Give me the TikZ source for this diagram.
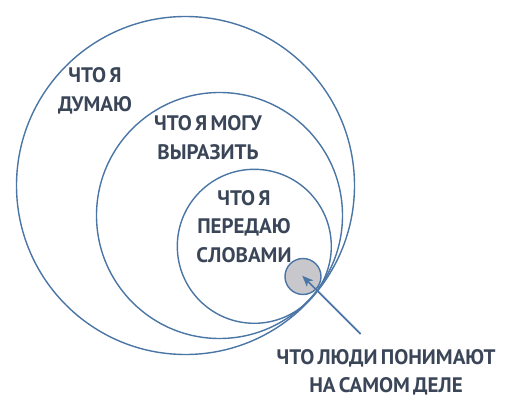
\documentclass[tikz,border=0pt]{standalone}
\usepackage{fontspec}
\setmainfont{PT Sans}[WordSpace=0.6]
\usetikzlibrary{arrows.meta}
\definecolor{ringblue}{RGB}{74,117,165}
\definecolor{inkgray}{RGB}{58,70,88}
\definecolor{dotgray}{RGB}{200,200,204}
\tikzset{
  ring/.style={circle, draw=ringblue, line width=1.4pt, inner sep=0pt},
  lbl/.style={text=inkgray, align=center, font=\fontsize{21}{28.5}\selectfont\bfseries, inner sep=0pt}
}

\begin{document}
\begin{tikzpicture}[x=1pt, y=-1pt]
 \useasboundingbox (0,0) rectangle (507,415);
 \node[ring, minimum size=338pt] (think) at (185.5,185.5) {};
 \node[ring, minimum size=246pt] (say) at (219.5,215.5) {};
 \node[ring, minimum size=154pt] (words) at (254.3,246.3) {};
 \node[ring, fill=dotgray, minimum size=36pt] (grasp) at (303,276.5) {};
 \node[lbl] (thinktxt) at (95,91) {ЧТО Я\\ДУМАЮ};
 \node[lbl] (saytxt) at (208,137.5) {ЧТО Я МОГУ\\ВЫРАЗИТЬ};
 \node[lbl] (wordstxt) at (244,226.5) {ЧТО Я\\ПЕРЕДАЮ\\СЛОВАМИ};
 \node[lbl] (grasptxt) at (386,372.5) {ЧТО ЛЮДИ ПОНИМАЮТ\\НА САМОМ ДЕЛЕ};
 \coordinate (tail) at (360.7,334);
 \draw[ringblue, line width=1.7pt, -{Stealth[length=11pt, width=9pt, inset=3pt]}, shorten >=-1pt] (tail) -- (grasp.center);
\end{tikzpicture}
\end{document}
